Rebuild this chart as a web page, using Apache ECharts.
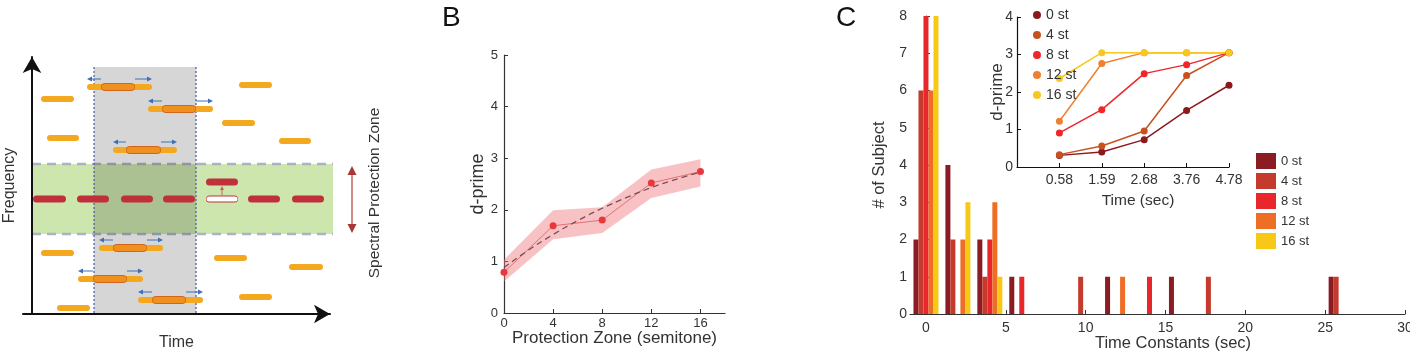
<!DOCTYPE html>
<html><head><meta charset="utf-8">
<script src="https://cdn.jsdelivr.net/npm/echarts@6/dist/echarts.min.js"></script>
<style>html,body{margin:0;padding:0;background:#fff}#c{width:1410px;height:362px}</style>
</head><body><div id="c"></div>
<script>
// ---------- Panel A (schematic): [start, end, frequency] ----------
const staticTones = [[9,42,215],[15,47,176],[207,240,229],[190,223,191],[247,279,173],[9,42,61],[25,58,6],[182,215,56],[257,291,47],[207,240,17]];
// [outerStart, outerEnd, innerStart, innerEnd, frequency]
const movingTones = [[55,120,69,103,227],[116,181,130,164,205],[81,145,94,129,164],[67,131,81,115,66],[46,111,61,95,35],[106,171,120,154,14]];
const targetTones = [[1,34],[45,77],[89,121],[131,163],[216,248],[260,292]];
const targetFreq = 115;
const missingTone = [174,206,115];
const shiftedTone = [174,206,132];
const integrationWindow = [62,164,0,247];
const protectionZone = [0,301,80,150];
const zoneArrow = [320,81,148];

// ---------- Panel B ----------
const zoneSemitones = [0,4,8,12,16];
const dprimeMean  = [0.79,1.69,1.80,2.52,2.74];
const dprimeLower = [0.61,1.43,1.55,2.23,2.45];
const dprimeUpper = [1.03,1.99,2.05,2.78,2.98];
const fitX = [0,2,4,6,8,10,12,14,16];
const fitY = [0.88,1.22,1.52,1.79,2.03,2.24,2.43,2.59,2.73];
const bTicks = [0,4,8,12,16];

// ---------- Panel C ----------
const zoneNames = ['0 st','4 st','8 st','12 st','16 st'];
const barColors = ['#8b1c24','#c43a2c','#e8262b','#ee6e25','#f8c816'];
const lineColors = ['#8b1a1f','#c8521f','#f0262a','#f08030','#f8c820'];
const binCenters = [0,2,4,6,8,10,12,14,16,18,20,22,24,26];
const counts0  = [2,4,2,1,0,0,1,0,1,0,0,0,0,1];
const counts4  = [6,2,1,0,0,1,0,0,0,1,0,0,0,1];
const counts8  = [8,0,2,1,0,0,0,1,0,0,0,0,0,0];
const counts12 = [6,2,3,0,0,0,1,0,0,0,0,0,0,0];
const counts16 = [8,3,1,0,0,0,0,0,0,0,0,0,0,0];
const cTicks = [0,5,10,15,20,25,30];
const insetPos = [1,2,3,4,5];
const insetTimeLabels = ['0.58','1.59','2.68','3.76','4.78'];
const inset0  = [0.31,0.40,0.73,1.51,2.18];
const inset4  = [0.33,0.56,0.96,2.44,3.05];
const inset8  = [0.91,1.53,2.49,2.73,3.05];
const inset12 = [1.22,2.76,3.05,3.05,3.05];
const inset16 = [2.36,3.05,3.05,3.05,3.05];

const FONT = '"Liberation Sans", Arial, Helvetica, sans-serif';
const chart = echarts.init(document.getElementById('c'));

function seg(api, x1, x2, y, color, w) {
  const p1 = api.coord([x1, y]), p2 = api.coord([x2, y]);
  const s = w / 2;
  return {type:'line', shape:{x1:p1[0]+s, y1:p1[1], x2:p2[0]-s, y2:p2[1]}, style:{stroke:color, lineWidth:w, lineCap:'round'}};
}
function arrowParts(p0, p1, color, lw, hl, hw) {
  const dx = p1[0]-p0[0], dy = p1[1]-p0[1], L = Math.hypot(dx, dy) || 1, ux = dx/L, uy = dy/L;
  const bx = p1[0]-ux*hl, by = p1[1]-uy*hl;
  return [
    {type:'line', shape:{x1:p0[0], y1:p0[1], x2:bx, y2:by}, style:{stroke:color, lineWidth:lw}},
    {type:'polygon', shape:{points:[[p1[0],p1[1]],[bx-uy*hw/2, by+ux*hw/2],[bx+uy*hw/2, by-ux*hw/2]]}, style:{fill:color}}
  ];
}
const A = {xAxisIndex:0, yAxisIndex:0, type:'custom', clip:false, silent:true};

const series = [
  Object.assign({}, A, {z:1, data:[protectionZone], renderItem(p, api){
    const a = api.coord([api.value(0), api.value(3)]), b = api.coord([api.value(1), api.value(2)]);
    return {type:'group', children:[
      {type:'rect', shape:{x:a[0], y:a[1], width:b[0]-a[0], height:b[1]-a[1]}, style:{fill:'#cde6ad'}},
      {type:'line', shape:{x1:a[0], y1:a[1], x2:b[0], y2:a[1]}, style:{stroke:'#a9b3c8', lineWidth:2.5, lineDash:[9,6]}},
      {type:'line', shape:{x1:a[0], y1:b[1], x2:b[0], y2:b[1]}, style:{stroke:'#a9b3c8', lineWidth:2.5, lineDash:[9,6]}}
    ]};
  }}),
  Object.assign({}, A, {z:2, data:[integrationWindow], renderItem(p, api){
    const a = api.coord([api.value(0), api.value(3)]), b = api.coord([api.value(1), api.value(2)]);
    return {type:'group', children:[
      {type:'rect', shape:{x:a[0], y:a[1], width:b[0]-a[0], height:b[1]-a[1]}, style:{fill:'rgba(0,0,0,0.16)'}},
      {type:'line', shape:{x1:a[0], y1:a[1], x2:a[0], y2:b[1]}, style:{stroke:'#5262b0', lineWidth:1.3, lineDash:[2,2]}},
      {type:'line', shape:{x1:b[0], y1:a[1], x2:b[0], y2:b[1]}, style:{stroke:'#5262b0', lineWidth:1.3, lineDash:[2,2]}}
    ]};
  }}),
  Object.assign({}, A, {z:3, data:staticTones, renderItem(p, api){
    return seg(api, api.value(0), api.value(1), api.value(2), '#f4a81f', 6);
  }}),
  Object.assign({}, A, {z:3, data:movingTones, renderItem(p, api){
    const y = api.value(4);
    const ch = [seg(api, api.value(0), api.value(1), y, '#f4a81f', 6),
                seg(api, api.value(2), api.value(3), y, '#d2651c', 8),
                seg(api, api.value(2)+0.7, api.value(3)-0.7, y, '#f0901f', 6)];
    const yA = y + 8;
    ch.push(...arrowParts(api.coord([api.value(2), yA]), api.coord([api.value(0), yA]), '#3f6fb5', 1, 5, 5));
    ch.push(...arrowParts(api.coord([api.value(3), yA]), api.coord([api.value(1), yA]), '#3f6fb5', 1, 5, 5));
    return {type:'group', children:ch};
  }}),
  Object.assign({}, A, {z:4, data:targetTones, renderItem(p, api){
    return seg(api, api.value(0), api.value(1), targetFreq, '#c0303a', 7);
  }}),
  Object.assign({}, A, {z:4, data:[missingTone.concat(shiftedTone)], renderItem(p, api){
    const x1 = api.value(0), x2 = api.value(1), y = api.value(2), y2 = api.value(5);
    const mid = (x1 + x2) / 2;
    return {type:'group', children:[
      seg(api, x1, x2, y, '#c0303a', 7),
      seg(api, x1+0.5, x2-0.5, y, '#ffffff', 5),
      seg(api, api.value(3), api.value(4), y2, '#c0303a', 7),
      ...arrowParts(api.coord([mid, y+4]), api.coord([mid, y2-4]), '#c86060', 1, 4, 4)
    ]};
  }}),
  Object.assign({}, A, {z:4, data:[zoneArrow], renderItem(p, api){
    const t = api.coord([api.value(0), api.value(2)]), b = api.coord([api.value(0), api.value(1)]);
    const m = [t[0], (t[1]+b[1])/2];
    return {type:'group', children:[
      ...arrowParts(m, t, '#a83838', 1.8, 9, 9),
      ...arrowParts(m, b, '#a83838', 1.8, 9, 9),
      {type:'line', shape:{x1:t[0], y1:t[1]+9, x2:b[0], y2:b[1]-9}, style:{stroke:'#d89090', lineWidth:1.8}}
    ]};
  }}),
  // ---- Panel B ----
  {type:'custom', xAxisIndex:1, yAxisIndex:1, silent:true, z:1,
   data:[[0]], renderItem(p, api){
     const pts = [];
     zoneSemitones.forEach((x,i)=>pts.push(api.coord([x, dprimeUpper[i]])));
     for (let i = zoneSemitones.length-1; i >= 0; i--) pts.push(api.coord([zoneSemitones[i], dprimeLower[i]]));
     return {type:'polygon', shape:{points:pts}, style:{fill:'rgba(240,120,125,0.45)'}};
   }},
  {type:'line', xAxisIndex:1, yAxisIndex:1, z:3, data:zoneSemitones.map((x,i)=>[x, dprimeMean[i]]),
   symbol:'circle', symbolSize:7, itemStyle:{color:'#e8383d'}, lineStyle:{color:'#e05a5e', width:0.8}},
  {type:'line', xAxisIndex:1, yAxisIndex:1, z:4, smooth:true, symbol:'none', data:fitX.map((x,i)=>[x, fitY[i]]),
   lineStyle:{color:'#7a4f55', width:1.3, type:[6,4]}}
];

[counts0, counts4, counts8, counts12, counts16].forEach((cnt, k) => {
  series.push({type:'bar', name:zoneNames[k], xAxisIndex:2, yAxisIndex:2, barWidth:5, barGap:'0%',
    itemStyle:{color:barColors[k]}, data:binCenters.map((c,i)=>[c, cnt[i]])});
});
[inset0, inset4, inset8, inset12, inset16].forEach((vals, k) => {
  series.push({type:'line', name:zoneNames[k], xAxisIndex:3, yAxisIndex:3, symbol:'circle', symbolSize:7,
    itemStyle:{color:lineColors[k]}, lineStyle:{color:lineColors[k], width:1.5},
    data:insetPos.map((x,i)=>[x, vals[i]])});
});

const axisCol = '#333';
const lab = {color:'#333', fontSize:14, fontFamily:FONT};
const nameStyle = (fs) => ({color:'#333', fontSize:fs, fontFamily:FONT});

const option = {
  animation:false,
  textStyle:{fontFamily:FONT},
  grid:[
    {left:23, top:57, width:307, height:257, outerBoundsMode:'none', containLabel:false},
    {left:504, top:55, width:221, height:258, outerBoundsMode:'none', containLabel:false},
    {left:910, top:16, width:495, height:298, outerBoundsMode:'none', containLabel:false},
    {left:1017, top:17, width:212, height:150, outerBoundsMode:'none', containLabel:false}
  ],
  xAxis:[
    {gridIndex:0, type:'value', min:-9, max:298, z:10, splitLine:{show:false}, axisTick:{show:false}, axisLabel:{show:false},
     axisLine:{lineStyle:{color:'#111', width:2}, symbol:['none','arrow'], symbolSize:[14,16]},
     name:'Time', nameLocation:'middle', nameGap:21, nameMoveOverlap:false, nameTextStyle:nameStyle(16)},
    {gridIndex:1, type:'value', min:0, max:18, splitLine:{show:false},
     axisLine:{lineStyle:{color:axisCol, width:1.2}},
     axisTick:{inside:true, length:4, customValues:bTicks, lineStyle:{color:axisCol}},
     axisLabel:{customValues:bTicks, margin:4, color:'#333', fontSize:13, fontFamily:FONT},
     name:'Protection Zone (semitone)', nameLocation:'middle', nameGap:17, nameMoveOverlap:false, nameTextStyle:nameStyle(17)},
    {gridIndex:2, type:'value', min:-1, max:30, splitLine:{show:false},
     axisLine:{lineStyle:{color:axisCol, width:1.2}},
     axisTick:{inside:true, length:4, customValues:cTicks, lineStyle:{color:axisCol}},
     axisLabel:Object.assign({customValues:cTicks, margin:7}, lab),
     name:'Time Constants (sec)', nameLocation:'middle', nameGap:21, nameMoveOverlap:false,
     nameTextStyle:Object.assign(nameStyle(16.5), {padding:[0,0,0,31]})},
    {gridIndex:3, type:'value', min:0, max:5, splitLine:{show:false},
     axisLine:{lineStyle:{color:'#111', width:1.2}},
     axisTick:{inside:true, length:4, customValues:insetPos, lineStyle:{color:'#111'}},
     axisLabel:Object.assign({customValues:insetPos, margin:6, formatter:(v)=>insetTimeLabels[Math.round(v)-1] || ''}, lab),
     name:'Time (sec)', nameLocation:'middle', nameGap:26, nameMoveOverlap:false,
     nameTextStyle:Object.assign(nameStyle(15.5), {padding:[0,0,0,30]})}
  ],
  yAxis:[
    {gridIndex:0, type:'value', min:0, max:257, z:10, splitLine:{show:false}, axisTick:{show:false}, axisLabel:{show:false},
     axisLine:{onZero:true, lineStyle:{color:'#111', width:2}, symbol:['none','arrow'], symbolSize:[14,16]},
     name:'Frequency', nameLocation:'middle', nameGap:5, nameMoveOverlap:false, nameTextStyle:nameStyle(16)},
    {gridIndex:1, type:'value', min:0, max:5, interval:1, splitLine:{show:false},
     axisLine:{show:true, lineStyle:{color:axisCol, width:1.2}},
     axisTick:{show:true, inside:true, length:4, lineStyle:{color:axisCol}},
     axisLabel:{margin:6, color:'#333', fontSize:13, fontFamily:FONT},
     name:'d-prime', nameLocation:'middle', nameGap:17, nameMoveOverlap:false, nameTextStyle:nameStyle(18)},
    {gridIndex:2, type:'value', min:0, max:8, interval:1, splitLine:{show:false},
     axisLine:{show:true, lineStyle:{color:axisCol, width:1.2}},
     axisTick:{show:true, inside:true, length:4, lineStyle:{color:axisCol}},
     axisLabel:Object.assign({margin:3}, lab),
     name:'# of Subject', nameLocation:'middle', nameGap:22, nameMoveOverlap:false, nameTextStyle:nameStyle(16.5)},
    {gridIndex:3, type:'value', min:0, max:4, interval:1, splitLine:{show:false},
     axisLine:{show:true, lineStyle:{color:'#111', width:1.2}},
     axisTick:{show:true, inside:true, length:4, lineStyle:{color:'#111'}},
     axisLabel:Object.assign({margin:4}, lab),
     name:'d-prime', nameLocation:'middle', nameGap:11, nameMoveOverlap:false, nameTextStyle:nameStyle(17)}
  ],
  legend:[
    {orient:'vertical', left:1256, top:153, padding:0, itemWidth:20, itemHeight:16, itemGap:4, selectedMode:false,
     icon:'rect', textStyle:{color:'#333', fontSize:13, fontFamily:FONT},
     data:zoneNames.map((n,k)=>({name:n, icon:'rect', itemStyle:{color:barColors[k], borderWidth:0}}))},
    {orient:'vertical', left:1033, top:8, padding:0, itemWidth:8, itemHeight:8, itemGap:6, selectedMode:false,
     icon:'circle', textStyle:{color:'#333', fontSize:14, fontFamily:FONT},
     data:zoneNames.map((n,k)=>({name:n, icon:'circle', itemStyle:{color:lineColors[k], borderWidth:0}}))}
  ],
  graphic:[
    {type:'text', left:442, top:4, style:{text:'B', fontSize:28, fontFamily:FONT, fill:'#111'}},
    {type:'text', left:836, top:4, style:{text:'C', fontSize:28, fontFamily:FONT, fill:'#111'}},
    {type:'text', x:375, y:193, rotation:Math.PI/2,
     style:{text:'Spectral Protection Zone', fontSize:15.5, fontFamily:FONT, fill:'#333', align:'center', verticalAlign:'middle'}}
  ],
  series:series
};
chart.setOption(option);
</script></body></html>
